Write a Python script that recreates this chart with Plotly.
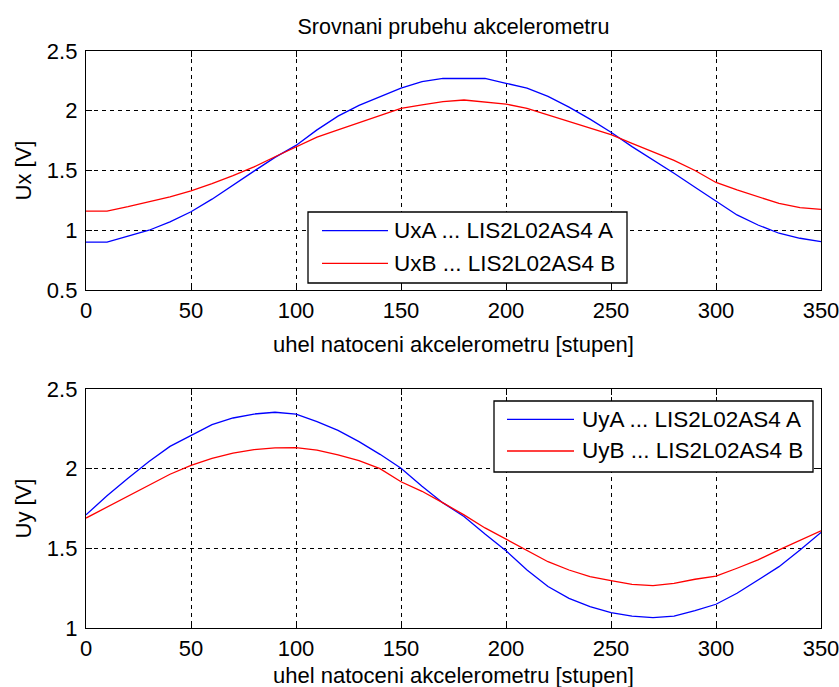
import plotly.graph_objects as go

angle = list(range(0, 360, 10))

ux_a = [0.90, 0.90, 0.95, 1.00, 1.07, 1.155, 1.26, 1.38, 1.495, 1.61, 1.71, 1.84,
        1.955, 2.045, 2.118, 2.19, 2.243, 2.27, 2.27, 2.27, 2.23, 2.19, 2.12, 2.03,
        1.93, 1.82, 1.70, 1.59, 1.477, 1.36, 1.245, 1.128, 1.044, 0.975, 0.933, 0.904]
ux_b = [1.16, 1.16, 1.197, 1.24, 1.28, 1.33, 1.39, 1.457, 1.53, 1.615, 1.70, 1.78,
        1.84, 1.90, 1.965, 2.02, 2.05, 2.076, 2.09, 2.076, 2.056, 2.02, 1.965, 1.914,
        1.86, 1.80, 1.727, 1.657, 1.585, 1.50, 1.40, 1.337, 1.28, 1.225, 1.19, 1.175]
uy_a = [1.71, 1.83, 1.94, 2.045, 2.14, 2.207, 2.276, 2.318, 2.343, 2.354, 2.343, 2.295,
        2.24, 2.17, 2.09, 2.003, 1.89, 1.785, 1.70, 1.59, 1.485, 1.364, 1.26, 1.186,
        1.134, 1.096, 1.075, 1.065, 1.075, 1.109, 1.149, 1.218, 1.30, 1.385, 1.49, 1.60]
uy_b = [1.69, 1.76, 1.83, 1.90, 1.965, 2.02, 2.065, 2.098, 2.12, 2.13, 2.132, 2.117,
        2.086, 2.05, 2.0, 1.918, 1.858, 1.785, 1.71, 1.628, 1.557, 1.49, 1.416, 1.364,
        1.322, 1.297, 1.274, 1.266, 1.28, 1.306, 1.326, 1.375, 1.427, 1.49, 1.552, 1.61]

names_top = ["UxA ... LIS2L02AS4 A", "UxB ... LIS2L02AS4 B"]
names_bot = ["UyA ... LIS2L02AS4 A", "UyB ... LIS2L02AS4 B"]
x_ticks = [0, 50, 100, 150, 200, 250, 300, 350]
y_ticks_top = [0.5, 1, 1.5, 2, 2.5]
y_ticks_bot = [1, 1.5, 2, 2.5]
title_text = "Srovnani prubehu akcelerometru"
x_title = "uhel natoceni akcelerometru [stupen]"
y_title_top = "Ux [V]"
y_title_bot = "Uy [V]"

FONT = "Liberation Sans, Arial, sans-serif"
BLUE = "#0000ff"
RED = "#ff0000"
COLORS = [BLUE, RED]
LW = 1.3

# plot-area geometry in pixels (for layout placement only)
PX_L, PX_R = 86, 821
TOP_T, TOP_B = 51, 290
BOT_T, BOT_B = 389, 628
W = PX_R - PX_L

fig = go.Figure()
for i, (ys, nm) in enumerate(zip([ux_a, ux_b], names_top)):
    fig.add_trace(go.Scatter(x=angle, y=ys, mode="lines", name=nm, showlegend=False,
                             line=dict(color=COLORS[i], width=LW), xaxis="x", yaxis="y"))
for i, (ys, nm) in enumerate(zip([uy_a, uy_b], names_bot)):
    fig.add_trace(go.Scatter(x=angle, y=ys, mode="lines", name=nm, showlegend=False,
                             line=dict(color=COLORS[i], width=LW), xaxis="x2", yaxis="y2"))


def xaxis_cfg(anchor):
    return dict(range=[0, 350], tickvals=x_ticks, anchor=anchor, automargin=False,
                showline=True, linecolor="black", linewidth=1.3, mirror="allticks",
                ticks="inside", ticklen=6, tickcolor="black",
                showgrid=True, gridcolor="black", gridwidth=1, griddash="4px,4px",
                zeroline=False, ticklabelstandoff=0, ticklabeloverflow="allow",
                tickfont=dict(size=22))


def yaxis_cfg(anchor, rng, ticks, domain):
    return dict(range=rng, tickvals=ticks, anchor=anchor, domain=domain, automargin=False,
                showline=True, linecolor="black", linewidth=1.3, mirror="allticks",
                ticks="inside", ticklen=6, tickcolor="black",
                showgrid=True, gridcolor="black", gridwidth=1, griddash="4px,4px",
                zeroline=False, ticklabelstandoff=3, ticklabeloverflow="allow",
                tickfont=dict(size=22))


annotations = [
    dict(text=x_title, xref="x domain", yref="y domain", x=0.5, y=-(344 - TOP_B) / 239,
         xanchor="center", yanchor="middle", showarrow=False, font=dict(size=22)),
    dict(text=x_title, xref="x2 domain", yref="y2 domain", x=0.5, y=-(675 - BOT_B) / 239,
         xanchor="center", yanchor="middle", showarrow=False, font=dict(size=22)),
    dict(text=y_title_top, xref="x domain", yref="y domain", x=-(PX_L - 23) / W, y=0.5,
         xanchor="center", yanchor="middle", textangle=-90, showarrow=False, font=dict(size=22)),
    dict(text=y_title_bot, xref="x2 domain", yref="y2 domain", x=-(PX_L - 23) / W, y=0.5,
         xanchor="center", yanchor="middle", textangle=-90, showarrow=False, font=dict(size=22)),
]

shapes = []


def add_legend(xd, yd, box, line_x, text_x, line_ys, names):
    """box=(x0,y0,x1,y1) pixels; draws MATLAB-style legend in axis-domain coords."""
    x0, y0, x1, y1 = box
    if yd == "y domain":
        ty, by = TOP_T, TOP_B
    else:
        ty, by = BOT_T, BOT_B
    fy = lambda p: (by - p) / (by - ty)
    fx = lambda p: (p - PX_L) / W
    shapes.append(dict(type="rect", xref=xd, yref=yd, x0=fx(x0), x1=fx(x1), y0=fy(y0), y1=fy(y1),
                       line=dict(color="black", width=1.3), fillcolor="white", layer="above"))
    for i, (ly, nm) in enumerate(zip(line_ys, names)):
        shapes.append(dict(type="line", xref=xd, yref=yd, x0=fx(line_x[0]), x1=fx(line_x[1]),
                           y0=fy(ly), y1=fy(ly), line=dict(color=COLORS[i], width=LW), layer="above"))
        annotations.append(dict(text=nm, xref=xd, yref=yd, x=fx(text_x), y=fy(ly),
                                xanchor="left", yanchor="middle", showarrow=False,
                                font=dict(size=22.5)))


add_legend("x domain", "y domain", (308, 212, 627, 283), (322, 388), 392, (230.7, 263.3), names_top)
add_legend("x2 domain", "y2 domain", (494, 401, 813, 472), (507, 574), 580, (419.3, 451), names_bot)

fig.update_layout(
    width=839, height=687,
    margin=dict(l=PX_L, r=839 - PX_R, t=TOP_T, b=687 - BOT_B),
    paper_bgcolor="white", plot_bgcolor="white",
    font=dict(family=FONT, size=22, color="black"),
    title=dict(text=title_text, x=(PX_L + PX_R) / 2 / 839, xanchor="center",
               y=1 - 26 / 687, yanchor="middle", font=dict(size=21.5)),
    xaxis=xaxis_cfg("y"),
    yaxis=yaxis_cfg("x", [0.5, 2.5], y_ticks_top, [(BOT_B - TOP_B) / (BOT_B - TOP_T), 1]),
    xaxis2=xaxis_cfg("y2"),
    yaxis2=yaxis_cfg("x2", [1, 2.5], y_ticks_bot, [0, (BOT_B - BOT_T) / (BOT_B - TOP_T)]),
    showlegend=False,
    annotations=annotations,
    shapes=shapes,
)

fig.write_html("out.html")
